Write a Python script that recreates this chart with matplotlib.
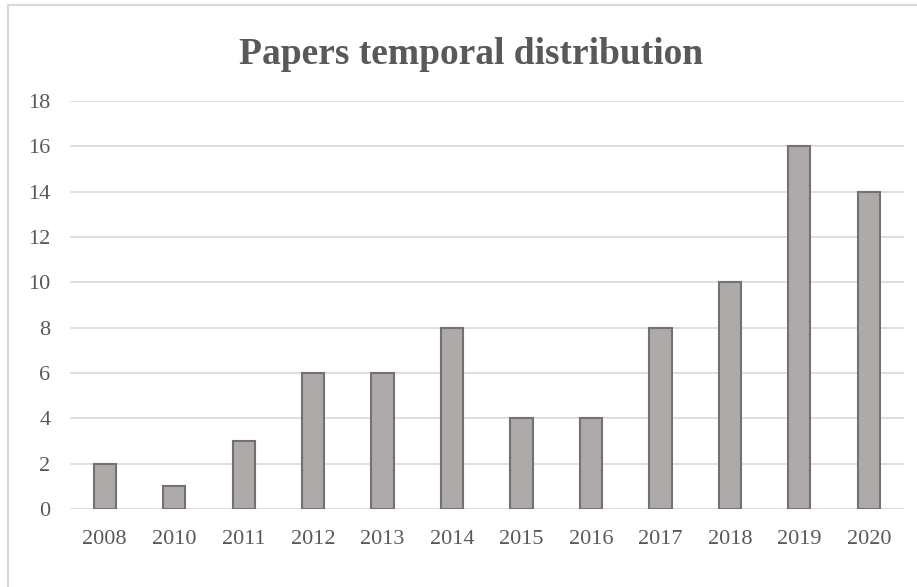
import matplotlib.pyplot as plt
from matplotlib.lines import Line2D

years = ["2008", "2010", "2011", "2012", "2013", "2014",
         "2015", "2016", "2017", "2018", "2019", "2020"]
papers = [2, 1, 3, 6, 6, 8, 4, 4, 8, 10, 16, 14]
yticks = [0, 2, 4, 6, 8, 10, 12, 14, 16, 18]

plt.rcParams['font.family'] = ['Liberation Serif', 'DejaVu Serif']

fig = plt.figure(figsize=(9.17, 5.87), dpi=100)
ax = fig.add_axes([0.0763, 0.133, 0.909, 0.695])

x = range(len(years))
ax.bar(x, papers, width=0.32, color="#AEAAAA", edgecolor="#767171",
       linewidth=1.5, zorder=3)

ax.set_xlim(-0.5, len(years) - 0.5)
ax.set_ylim(0, 18)
ax.set_yticks(yticks)
ax.set_xticks(list(x))
ax.set_xticklabels(years)
ax.yaxis.grid(True, color="#D9D9D9", linewidth=1.2, zorder=0)
for s in ax.spines.values():
    s.set_visible(False)
ax.tick_params(length=0, labelsize=16, colors="#595959")
ax.tick_params(axis='x', pad=15)
ax.tick_params(axis='y', pad=14)

fig.text(0.514, 0.907, "Papers temporal distribution", ha="center", va="center",
         fontsize=27, fontweight="bold", color="#595959")

# chart border (left and top only visible)
bx, by = 8 / 917, 1 - 5 / 587
fig.lines.append(Line2D([bx, bx, 1.0], [0, by, by], transform=fig.transFigure,
                        color="#D9D9D9", linewidth=1.5))

fig.savefig("out.png", dpi=100)
